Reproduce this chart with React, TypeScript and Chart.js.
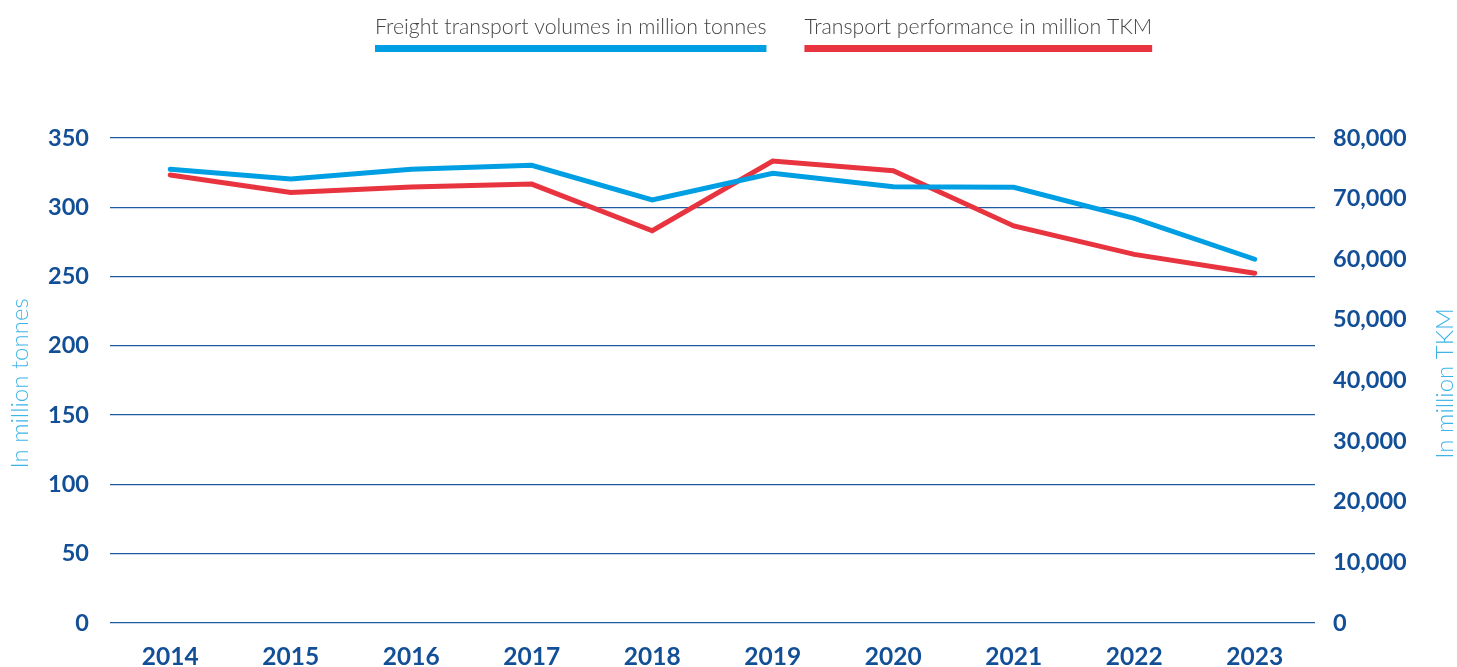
import React, { useEffect, useRef } from "react";
import { Chart, registerables } from "chart.js";

Chart.register(...registerables);

const years = ["2014", "2015", "2016", "2017", "2018", "2019", "2020", "2021", "2022", "2023"];
const volumesTonnes = [327.4, 320.4, 327.4, 330.3, 305.3, 324.5, 314.9, 314.4, 292.0, 262.5];
const performanceTkm = [73900, 71000, 71900, 72400, 64700, 76200, 74600, 65500, 60800, 57700];
const leftTicks = [0, 50, 100, 150, 200, 250, 300, 350];
const rightTicks = [0, 10000, 20000, 30000, 40000, 50000, 60000, 70000, 80000];
const volumesLabel = "Freight transport volumes in million tonnes";
const performanceLabel = "Transport performance in million TKM";
const leftTitle = "In million tonnes";
const rightTitle = "In million TKM";

const BLUE = "#009fe3";
const RED = "#e8343f";
const DARK = "#134f97";
const GRID = "#1d5ca3";
const TITLE = "#3db4e8";

const overlayPlugin = {
  id: "overlay",
  afterDraw(chart: any) {
    const ctx = chart.ctx;
    const area = chart.chartArea;
    ctx.save();
    // legend
    ctx.font = "300 21.3px Lato";
    ctx.textBaseline = "alphabetic";
    ctx.textAlign = "left";
    const items = chart.data.datasets.map((d: any) => ({ text: d.label, color: d.borderColor }));
    const gap = 38;
    const widths = items.map((it: any) => ctx.measureText(it.text).width);
    let x = 375;
    items.forEach((it: any, i: number) => {
      ctx.fillStyle = "#454545";
      ctx.fillText(it.text, x, 34);
      ctx.fillStyle = it.color;
      ctx.fillRect(x, 45, widths[i], 7);
      x += widths[i] + gap;
    });
    // axis titles
    ctx.font = "300 24px Lato";
    ctx.fillStyle = TITLE;
    ctx.textAlign = "center";
    ctx.textBaseline = "middle";
    const cy = (area.top + area.bottom) / 2 + 3;
    ctx.save();
    ctx.translate(20, cy);
    ctx.rotate(-Math.PI / 2);
    ctx.fillText(leftTitle, 0, 0);
    ctx.restore();
    ctx.save();
    ctx.translate(1445, cy);
    ctx.rotate(-Math.PI / 2);
    ctx.fillText(rightTitle, 0, 0);
    ctx.restore();
    ctx.restore();
  },
};

export default function App() {
  const ref = useRef<HTMLCanvasElement | null>(null);
  useEffect(() => {
    document.body.style.margin = "0";
    const canvas = ref.current;
    if (!canvas) return;
    const yFont = { family: "Lato", size: 23.5, weight: "bold" as const };
    const xFont = { family: "Lato", size: 24.5, weight: "bold" as const };
    const chart = new Chart(canvas, {
      type: "line",
      data: {
        labels: years,
        datasets: [
          {
            label: volumesLabel,
            data: volumesTonnes,
            borderColor: BLUE,
            backgroundColor: BLUE,
            borderWidth: 5,
            pointRadius: 0,
            borderCapStyle: "round",
            tension: 0,
            yAxisID: "y",
          },
          {
            label: performanceLabel,
            data: performanceTkm,
            borderColor: RED,
            backgroundColor: RED,
            borderWidth: 5,
            pointRadius: 0,
            borderCapStyle: "round",
            tension: 0,
            yAxisID: "y1",
          },
        ],
      },
      options: {
        animation: false,
        responsive: false,
        maintainAspectRatio: false,
        layout: { padding: { top: 138, left: 0, right: 0, bottom: 0 } },
        plugins: { legend: { display: false }, tooltip: { enabled: false } },
        scales: {
          x: {
            offset: true,
            grid: { display: false },
            border: { display: false },
            ticks: { font: xFont, color: DARK, padding: 11, maxRotation: 0, autoSkip: false },
            afterFit: (s: any) => { s.height = 44; },
          },
          y: {
            position: "left",
            min: 0,
            max: 350,
            afterBuildTicks: (s: any) => { s.ticks = leftTicks.map((v) => ({ value: v })); },
            grid: { color: GRID, lineWidth: 1.3, drawTicks: false },
            border: { display: false },
            ticks: { font: yFont, color: DARK, padding: 21 },
            afterFit: (s: any) => { s.width = 110; },
          },
          y1: {
            position: "right",
            min: 0,
            max: 80000,
            afterBuildTicks: (s: any) => { s.ticks = rightTicks.map((v) => ({ value: v })); },
            grid: { display: false, drawTicks: false },
            border: { display: false },
            ticks: {
              font: yFont,
              color: DARK,
              padding: 18,
              callback: (v: any) => Number(v).toLocaleString("en-US"),
            },
            afterFit: (s: any) => { s.width = 142; },
          },
        },
      },
      plugins: [overlayPlugin],
    });
    return () => chart.destroy();
  }, []);
  return (
    <div style={{ position: "fixed", left: 0, top: 0, width: 1457, height: 667, background: "#ffffff" }}>
      <canvas ref={ref} width={1457} height={667} style={{ display: "block", width: 1457, height: 667 }} />
    </div>
  );
}
